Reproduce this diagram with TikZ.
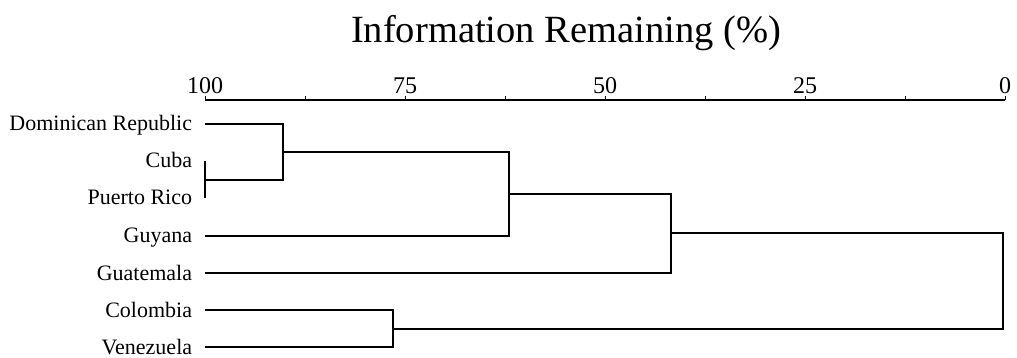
\documentclass[tikz,border=0pt]{standalone}
\usepackage{fontspec}
\setmainfont{Liberation Serif}
\begin{document}
\begin{tikzpicture}[x=1pt,y=-1pt,line width=1.8pt,
    leaf/.style={anchor=base east,inner sep=0pt,font=\fontsize{22}{22}\selectfont},
    ticklabel/.style={anchor=base,inner sep=0pt,font=\fontsize{24}{24}\selectfont}]
    \useasboundingbox (0,0) rectangle (1017,358);
    % Axis
    \node[anchor=base,inner sep=0pt,font=\fontsize{38.5}{38.5}\selectfont] (title) at (566,43) {Information Remaining (\%)};
    \coordinate (axL) at (205,100); \coordinate (axR) at (1005,100);
    \draw (axL) -- (axR);
    \foreach \i in {0,...,8} \draw[line width=1pt] (205+100*\i,100) -- ++(0,-4);
    \foreach \v [count=\i from 0] in {100,75,50,25,0}
        \node[ticklabel] (t\v) at (205+200*\i,94) {\v};
    % Leaves
    \foreach \n/\t/\y in {dr/Dominican Republic/124,cu/Cuba/161,pr/Puerto Rico/198,gy/Guyana/236,gt/Guatemala/273,co/Colombia/310,ve/Venezuela/347} {
        \node[leaf] (\n) at (193,\y+7) {\t};
        \coordinate (\n-e) at (205,\y);
    }
    % Joins
    \coordinate (k1) at (205,180);
    \coordinate (j1) at (283,152); \coordinate (j2) at (509,194);
    \coordinate (j3) at (671,233); \coordinate (j4) at (393,329);
    \coordinate (j5) at (1003,281);
    \draw (cu-e) -- (pr-e);
    \draw (dr-e) -| (j1) |- (k1);
    \draw (j1) -| (j2) |- (gy-e);
    \draw (j2) -| (j3) |- (gt-e);
    \draw (co-e) -| (j4) |- (ve-e);
    \draw (j3) -| (j5) |- (j4);
\end{tikzpicture}
\end{document}
